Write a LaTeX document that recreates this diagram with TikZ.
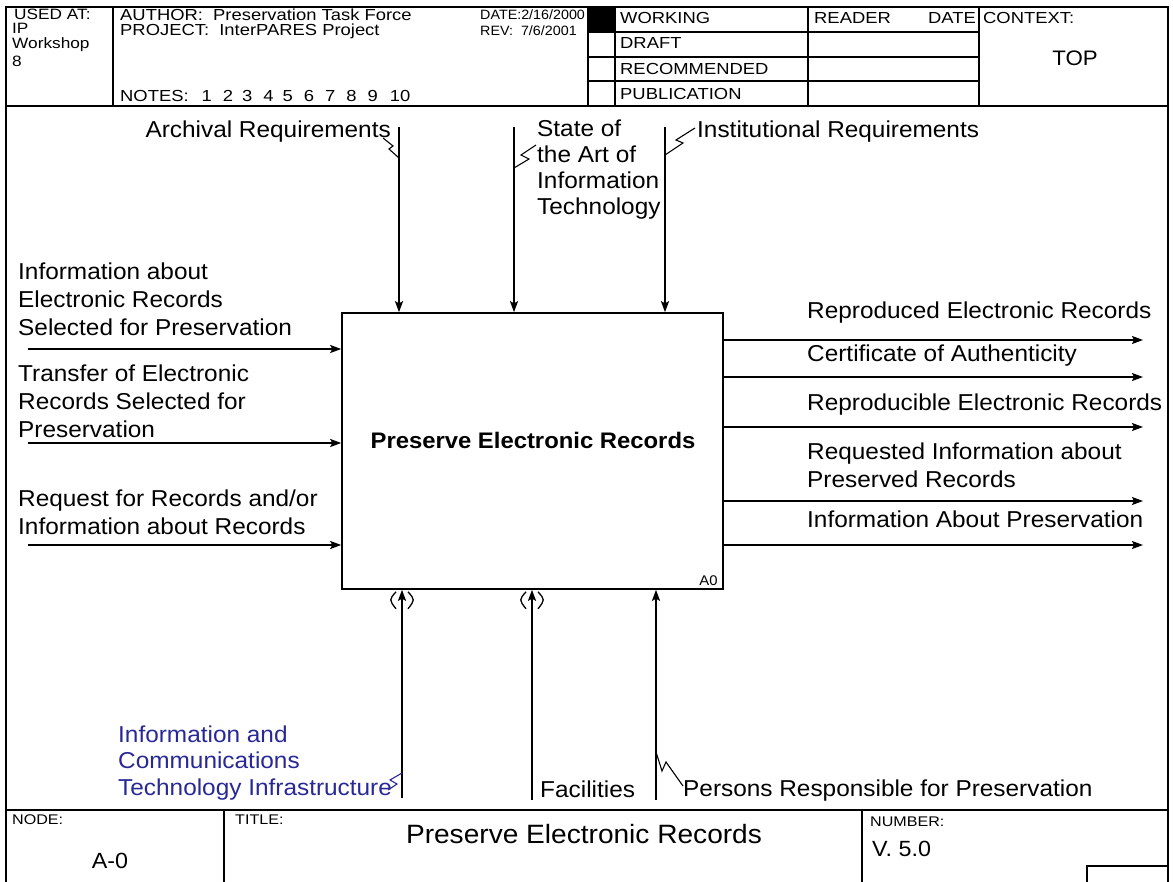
\documentclass[tikz,border=0pt]{standalone}
\usepackage{fontspec}
\setmainfont{Liberation Sans}[FakeStretch=1.06]
\newfontfamily\hdrfont{Liberation Sans}[FakeStretch=1.15]
\usetikzlibrary{arrows.meta}
\definecolor{ictblue}{RGB}{40,40,150}
\begin{document}
\begin{tikzpicture}[x=1pt,y=-1pt,
  rule/.style={line width=1.4pt},
  flow/.style={line width=1.6pt,-{Stealth[length=11pt,width=8pt,inset=2pt]}},
  squig/.style={line width=1.1pt},
  paren/.style={line width=1.3pt},
  lbl/.style={inner sep=0pt,anchor=west,align=left,font=\fontsize{23}{28}\selectfont},
  hdr/.style={inner sep=0pt,anchor=west,font=\hdrfont\fontsize{16}{18}\selectfont},
  hdrsite/.style={inner sep=0pt,anchor=west,font=\hdrfont\fontsize{15}{17}\selectfont},
  hdrdate/.style={inner sep=0pt,anchor=west,font=\fontsize{13.5}{16}\selectfont},
  tag/.style={inner sep=0pt,anchor=west,font=\hdrfont\fontsize{14}{16}\selectfont},
  activity/.style={draw,line width=1.6pt,minimum width=381pt,minimum height=276pt,inner sep=0pt}
]
\useasboundingbox (0,0) rectangle (1173,882);

% ---- outer frame and section rules
\draw[rule] (6,882) -- (6,7) -- (1168,7) -- (1168,882);
\draw[rule] (6,106) -- (1168,106);
\draw[rule] (6,810) -- (1168,810);

% ---- header block
\draw[rule] (113,7) -- (113,106);
\draw[rule] (588,7) -- (588,106);
\draw[rule] (615,7) -- (615,106);
\draw[rule] (808,7) -- (808,106);
\draw[rule] (979,7) -- (979,106);
\foreach \yy in {32,57,81} \draw[rule] (588,\yy) -- (979,\yy);
\fill (588,7) rectangle (615,32);

\node[hdrsite] (usedat) at (14,14.5) {USED AT:};
\node[hdrsite] (usedip) at (12,28.5) {IP};
\node[hdrsite] (usedws) at (12,45) {Workshop};
\node[hdrsite] (used8)  at (12,61) {8};
\node[hdr] (author) at (120,15) {AUTHOR:\ \ Preservation Task Force};
\node[hdr] (project) at (120,31) {PROJECT:\ \ InterPARES Project};
\node[hdr] (notes) at (120,96) {NOTES:\hspace{13pt}1\hspace{11pt}2\hspace{9pt}3\hspace{11pt}4\hspace{9pt}5\hspace{11pt}6\hspace{11pt}7\hspace{11pt}8\hspace{11pt}9\hspace{12pt}10};
\node[hdrdate] (date) at (480,15) {DATE:2/16/2000};
\node[hdrdate] (rev) at (480,31) {REV:\ \ 7/6/2001};
\node[hdr] (working) at (620,18) {WORKING};
\node[hdr] (draft) at (620,43) {DRAFT};
\node[hdr] (recom) at (620,69) {RECOMMENDED};
\node[hdr] (publ) at (620,94) {PUBLICATION};
\node[hdr] (reader) at (814,18) {READER};
\node[hdr,anchor=east] (rdate) at (976,18) {DATE};
\node[hdr] (context) at (983,18) {CONTEXT:};
\node[inner sep=0pt,font=\fontsize{21}{24}\selectfont] (top) at (1075,58) {TOP};

% ---- activity box
\node[activity] (A0) at (532.5,451) {};
\node[inner sep=0pt,font=\fontsize{22.5}{26}\selectfont\bfseries] (A0name) at (533,440) {Preserve Electronic Records};
\node[inner sep=0pt,anchor=south east,font=\fontsize{14}{16}\selectfont] (A0num) at ([xshift=-6pt,yshift=4pt]A0.south east) {A0};

% ---- controls (top)
\coordinate (c1) at (399,127);
\coordinate (c2) at (514,127);
\coordinate (c3) at (665,127);
\foreach \c in {c1,c2,c3} \draw[flow] (\c) -- (\c |- A0.north);
\node[lbl,anchor=east] (ctl1) at (391,132) {Archival Requirements};
\node[lbl,font=\fontsize{23}{26}\selectfont] (ctl2) at (537,170) {State of\\the Art of\\Information\\Technology};
\node[lbl] (ctl3) at (697,132) {Institutional Requirements};
\draw[squig] (383,138) -- (393,146) -- (389,149) -- (399,158);
\draw[squig] (514,168) -- (529,159) -- (521,155) -- (536,145);
\draw[squig] (665,155) -- (683,143) -- (676,140) -- (695,128);

% ---- inputs (left)
\coordinate (i1) at (28,349);
\coordinate (i2) at (28,443);
\coordinate (i3) at (28,545);
\foreach \i in {i1,i2,i3} \draw[flow] (\i) -- (\i -| A0.west);
\node[lbl] (in1) at (18,299) {Information about\\Electronic Records\\Selected for Preservation};
\node[lbl] (in2) at (18,401) {Transfer of Electronic\\Records Selected for\\Preservation};
\node[lbl] (in3) at (18,512) {Request for Records and/or\\Information about Records};

% ---- outputs (right)
\coordinate (o1) at (1143,340);
\coordinate (o2) at (1143,377);
\coordinate (o3) at (1143,427);
\coordinate (o4) at (1143,501);
\coordinate (o5) at (1143,545);
\foreach \o in {o1,o2,o3,o4,o5} \draw[flow] (A0.east |- \o) -- (\o);
\node[lbl] (out1) at (807,313) {Reproduced Electronic Records};
\node[lbl] (out2) at (807,356) {Certificate of Authenticity};
\node[lbl] (out3) at (807,405) {Reproducible Electronic Records};
\node[lbl] (out4) at (807,465) {Requested Information about\\Preserved Records};
\node[lbl] (out5) at (807,519) {Information About Preservation};

% ---- mechanisms (bottom)
\coordinate (m1) at (402,798);
\coordinate (m2) at (532,800);
\coordinate (m3) at (656,800);
\foreach \m in {m1,m2,m3} \draw[flow] (\m) -- (\m |- A0.south);
% tunnel marks around the mechanism tips
\foreach \m in {m1,m2} {
  \draw[paren] ([xshift=-6pt,yshift=-2pt]\m |- A0.south) .. controls ([xshift=-13pt,yshift=-10pt]\m |- A0.south) .. ([xshift=-6pt,yshift=-19pt]\m |- A0.south);
  \draw[paren] ([xshift=6pt,yshift=-2pt]\m |- A0.south) .. controls ([xshift=13pt,yshift=-10pt]\m |- A0.south) .. ([xshift=6pt,yshift=-19pt]\m |- A0.south);
}
\node[lbl,text=ictblue,font=\fontsize{23}{26.5}\selectfont] (mech1) at (118,763) {Information and\\Communications\\Technology Infrastructure};
\node[lbl] (mech2) at (540,789) {Facilities};
\node[lbl] (mech3) at (683,791) {Persons Responsible for Preservation};
\draw[squig,ictblue] (402,773) -- (390,780) -- (397,784) -- (388,790);
\draw[squig] (656,752) -- (662,771) -- (666,762) -- (683,786);

% ---- footer block
\draw[rule] (224,810) -- (224,882);
\draw[rule] (862,810) -- (862,882);
\draw[rule] (1087,882) -- (1087,866) -- (1168,866);
\node[tag] (nodelbl) at (12,820) {NODE:};
\node[inner sep=0pt,font=\fontsize{22}{24}\selectfont] (nodeid) at (110,861) {A-0};
\node[tag] (titlelbl) at (235,820) {TITLE:};
\node[inner sep=0pt,font=\fontsize{26.5}{30}\selectfont] (titletxt) at (584,834) {Preserve Electronic Records};
\node[tag] (numlbl) at (870,822) {NUMBER:};
\node[inner sep=0pt,anchor=west,font=\fontsize{22}{24}\selectfont] (numval) at (872,849) {V. 5.0};
\end{tikzpicture}
\end{document}
